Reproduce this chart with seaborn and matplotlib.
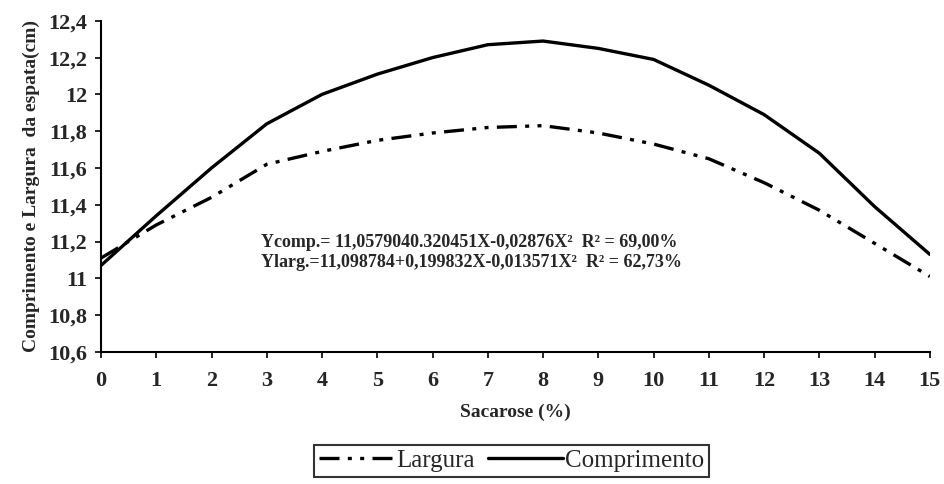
import matplotlib
matplotlib.use("Agg")
import matplotlib.pyplot as plt
from matplotlib.lines import Line2D
import seaborn as sns
import pandas as pd

sacarose = [0, 1, 2, 3, 4, 5, 6, 7, 8, 9, 10, 11, 12, 13, 14, 15]
comprimento = [11.07, 11.34, 11.60, 11.84, 12.00, 12.11, 12.20, 12.27, 12.29, 12.25,
               12.19, 12.05, 11.89, 11.68, 11.39, 11.13]
largura = [11.11, 11.29, 11.44, 11.62, 11.69, 11.75, 11.79, 11.82, 11.83, 11.79,
           11.73, 11.65, 11.52, 11.37, 11.19, 11.01]
y_ticks = [10.6, 10.8, 11.0, 11.2, 11.4, 11.6, 11.8, 12.0, 12.2, 12.4]
y_tick_labels = ["10,6", "10,8", "11", "11,2", "11,4", "11,6", "11,8", "12", "12,2", "12,4"]
equations = [
    "Ycomp.= 11,0579040.320451X-0,02876X²  R² = 69,00%",
    "Ylarg.=11,098784+0,199832X-0,013571X²  R² = 62,73%",
]

df = pd.DataFrame({
    "Sacarose": sacarose * 2,
    "valor": largura + comprimento,
    "serie": ["Largura"] * len(sacarose) + ["Comprimento"] * len(sacarose),
})

sns.set_theme(style="white")
plt.rcParams["font.family"] = ["Liberation Serif", "DejaVu Serif"]

dash_pattern = (6, 2.5, 1.2, 2.5, 1.2, 2.5)

fig = plt.figure(figsize=(9.44, 4.84), dpi=100)
ax = fig.add_axes([0.107, 0.273, 0.878, 0.684])

sns.lineplot(data=df, x="Sacarose", y="valor", hue="serie", style="serie",
             hue_order=["Largura", "Comprimento"], style_order=["Largura", "Comprimento"],
             palette={"Largura": "black", "Comprimento": "black"},
             dashes={"Largura": dash_pattern, "Comprimento": ""},
             linewidth=2.4, ax=ax, legend=False)

ax.set_xlim(0, 15)
ax.set_ylim(10.6, 12.4)
ax.set_xticks(sacarose)
ax.set_xticklabels([str(v) for v in sacarose], fontsize=16, fontweight="bold")
ax.set_yticks(y_ticks)
ax.set_yticklabels(y_tick_labels, fontsize=16, fontweight="bold")
ax.tick_params(axis="both", direction="out", length=4, width=1.2, color="black",
               bottom=True, left=True)
ax.tick_params(axis="x", pad=10)
ax.tick_params(axis="y", pad=6)
for side in ["top", "right"]:
    ax.spines[side].set_visible(False)
for side in ["left", "bottom"]:
    ax.spines[side].set_color("black")
    ax.spines[side].set_linewidth(1.5)

ax.set_xlabel("Sacarose (%)", fontsize=14, fontweight="bold", labelpad=9)
ax.set_ylabel("Comprimento e Largura  da espata(cm)", fontsize=14, fontweight="bold", labelpad=6)

ax.text(2.9, 11.193, equations[0], fontsize=13, fontweight="bold", va="center", ha="left")
ax.text(2.9, 11.085, equations[1], fontsize=13, fontweight="bold", va="center", ha="left")

handles = [
    Line2D([], [], color="black", linewidth=2.4, dashes=dash_pattern),
    Line2D([], [], color="black", linewidth=2.4),
]
leg = fig.legend(handles, ["Largura", "Comprimento"], loc="center",
                 bbox_to_anchor=(0.542, 0.048), ncol=2, frameon=True, fancybox=False,
                 prop={"size": 18}, handlelength=3.0, handletextpad=0.1,
                 columnspacing=0.5, borderpad=0.2, edgecolor="black")
leg.get_frame().set_linewidth(1.5)

fig.savefig("out.png", dpi=100)
